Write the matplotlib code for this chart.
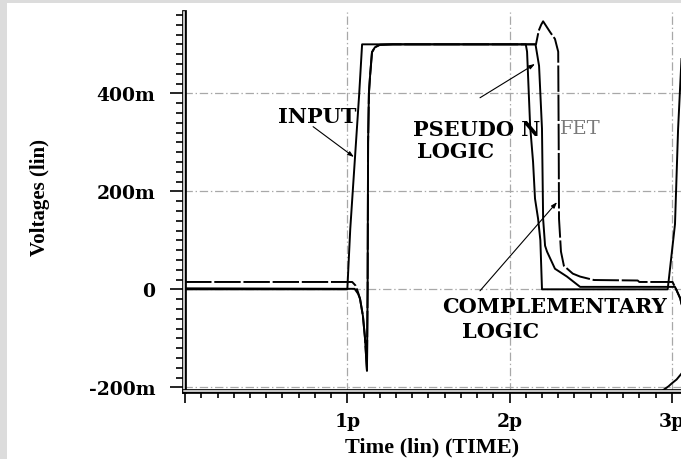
"""
Recreates the HSPICE style transient plot comparing an input pulse with
pseudo N FET logic and complementary logic outputs.
"""

import matplotlib.pyplot as plt
import matplotlib.patheffects as pe
from matplotlib.patches import Rectangle
from matplotlib.ticker import FixedLocator, MultipleLocator, FuncFormatter

plt.rcParams["lines.scale_dashes"] = False

# time in p, voltage in m
input_t = [0.0, 1.0, 1.018, 1.073, 1.091, 2.10, 2.108, 2.127, 2.145,
           2.157, 2.176, 2.19, 2.20, 2.975, 3.02, 3.039, 3.06]
input_v = [0, 0, 123, 398, 500, 500, 485, 333, 260,
           185, 144, 100, 0, 0, 133, 327, 470]

pseudo_t = [0.0, 1.045, 1.066, 1.078, 1.096, 1.109, 1.121, 1.125, 1.128,
            1.133, 1.14, 1.152, 1.17, 1.2, 1.28, 2.16, 2.182, 2.20, 2.207,
            2.219, 2.231, 2.28, 2.354, 2.435, 3.02, 3.053, 3.06]
pseudo_v = [2, 1, -9, -19, -54, -100, -166, 0, 300,
            400, 435, 484, 494, 499, 500, 500, 456, 328, 144,
            89, 77, 42, 26, 5, 5, -19, -30]

compl_t = [0.0, 1.03, 1.05, 1.065, 1.078, 1.096, 1.109, 1.121, 1.125, 1.128,
           1.133, 1.14, 1.152, 1.17, 1.2, 1.28, 2.163, 2.18, 2.195, 2.207,
           2.25, 2.28, 2.30, 2.303, 2.305, 2.317, 2.335, 2.39, 2.435, 2.52,
           2.79, 2.80, 3.005, 3.03, 3.053, 3.06]
compl_v = [15, 15, 8, -5, -19, -54, -100, -166, 0, 300,
           400, 435, 484, 494, 499, 500, 500, 528, 540, 547,
           525, 511, 485, 300, 144, 77, 48, 32, 26, 19,
           18, 15, 15, -2, -19, -30]

lower_t = [0.0, 2.92, 2.98, 3.0, 3.03, 3.06]
lower_v = [-212, -212, -198, -192, -184, -172]

y_ticks = [-200, 0, 200, 400]
x_ticks = [0, 1, 2, 3]

TICK_FONT = dict(family="DejaVu Serif", weight="bold", size=13.5)
LABEL_FONT = dict(family="Liberation Serif", weight="bold", size=16)
NOTE_FONT = dict(family="DejaVu Serif", weight="bold", size=15)


def volt_label(v, _pos):
    """
    Formats a voltage in m as HSPICE does
    """
    v = int(round(v))
    return "0" if v == 0 else f"{v}m"


def time_label(t, _pos):
    """
    Formats a time in p, leaving the origin blank
    """
    t = int(round(t))
    return "" if t == 0 else f"{t}p"


def style_axes(ax):
    """
    Sets limits, double line spines, ticks and dash-dot grid
    """
    ax.set_xlim(-0.01, 3.057)
    ax.set_ylim(-206.5, 566)
    ax.spines["top"].set_visible(False)
    ax.spines["right"].set_visible(False)
    for side in ["left", "bottom"]:
        ax.spines[side].set_path_effects([
            pe.Stroke(linewidth=3.4, foreground="black"),
            pe.Stroke(linewidth=1.1, foreground="white"),
        ])

    ax.xaxis.set_major_locator(FixedLocator(x_ticks))
    ax.xaxis.set_minor_locator(MultipleLocator(0.1))
    ax.xaxis.set_major_formatter(FuncFormatter(time_label))
    ax.yaxis.set_major_locator(FixedLocator(y_ticks))
    ax.yaxis.set_minor_locator(MultipleLocator(20))
    ax.yaxis.set_major_formatter(FuncFormatter(volt_label))

    ax.tick_params(axis="x", which="major", length=8.6, width=1.2, pad=7)
    ax.tick_params(axis="x", which="minor", length=5, width=1.2)
    ax.tick_params(axis="y", which="major", length=10, width=1.2, pad=10.5)
    ax.tick_params(axis="y", which="minor", length=5.8, width=1.2)
    for label in ax.get_xticklabels() + ax.get_yticklabels():
        label.set_fontproperties(TICK_FONT)

    ax.grid(True, which="major", color="#a8a8a8",
            linestyle=(0, (6, 2, 1, 2)), linewidth=0.9)


def plot_waves(ax):
    """
    Draws the waveforms, labels and pointer arrows
    """
    ax.plot(input_t, input_v, color="black", linewidth=1.4)
    ax.plot(pseudo_t, pseudo_v, color="black", linewidth=1.4)
    ax.plot(compl_t, compl_v, color="black", linewidth=1.4,
            linestyle=(0, (19, 2)))
    ax.plot(lower_t, lower_v, color="black", linewidth=1.4)

    arrow = dict(arrowstyle="-|>,head_length=0.35,head_width=0.12",
                 color="black", linewidth=0.8, shrinkA=0, shrinkB=0)
    ax.annotate("", xy=(1.041, 270), xytext=(0.789, 332), arrowprops=arrow)
    ax.annotate("", xy=(2.157, 460), xytext=(1.818, 391), arrowprops=arrow)
    ax.annotate("", xy=(2.293, 178), xytext=(1.818, -3), arrowprops=arrow)

    ax.text(0.815, 354, "INPUT", ha="center", va="center", **NOTE_FONT)
    ax.text(1.405, 327, "PSEUDO N", ha="left", va="center", **NOTE_FONT)
    ax.text(1.429, 282, "LOGIC", ha="left", va="center", **NOTE_FONT)
    ax.text(2.312, 329, "FET", ha="left", va="center", color="#7a7a7a",
            family="DejaVu Serif", size=14)
    ax.text(1.582, -34, "COMPLEMENTARY", ha="left", va="center", **NOTE_FONT)
    ax.text(1.705, -85, "LOGIC", ha="left", va="center", **NOTE_FONT)


def main():
    """
    Builds the figure and saves it to out.png
    """
    fig = plt.figure(figsize=(6.81, 4.60), dpi=100, facecolor="#dcdcdc")
    fig.patches.append(Rectangle((7 / 681, 0), 1, 456 / 460,
                                 transform=fig.transFigure,
                                 facecolor="white", edgecolor="none",
                                 zorder=-1))
    ax = fig.add_axes([183.5 / 681, (460 - 391.5) / 460,
                       (681 - 183.5) / 681, (391.5 - 13) / 460])
    style_axes(ax)
    plot_waves(ax)

    fig.text(40 / 681, 1 - 197 / 460, "Voltages (lin)", rotation=90,
             ha="center", va="center", size=15,
             family="Liberation Serif", weight="bold")
    fig.text(432 / 681, 1 - 447 / 460, "Time (lin) (TIME)",
             ha="center", va="center", **LABEL_FONT)

    fig.savefig("out.png", dpi=100)


if __name__ == "__main__":
    main()
